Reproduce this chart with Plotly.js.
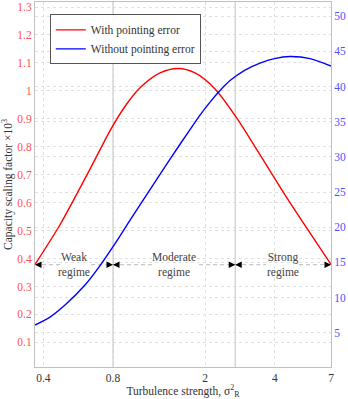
<!DOCTYPE html>
<html><head><meta charset="utf-8">
<script src="https://cdn.plot.ly/plotly-3.0.1.min.js"></script>
<style>html,body{margin:0;padding:0;background:#fff}</style>
</head><body><div id="chart" style="width:348px;height:399px"></div>
<script>
// Red: with pointing error (left axis, x10^3)
const sigmaWith = [0.368, 0.472, 0.637, 0.776, 0.902, 1.047, 1.277, 1.528, 1.809, 2.208, 2.693, 3.455, 4.656, 7.0];
const capWith   = [0.379, 0.521, 0.721, 0.857, 0.945, 1.011, 1.064, 1.080, 1.064, 1.007, 0.912, 0.771, 0.600, 0.379];
// Blue: without pointing error (right axis)
const sigmaWithout = [0.368, 0.427, 0.496, 0.605, 0.703, 0.816, 0.948, 1.156, 1.411, 1.721, 1.901, 2.101, 2.320, 2.563, 2.975, 3.455, 3.990, 4.656, 5.681, 7.0];
const capWithout   = [6.11, 7.24, 8.95, 11.79, 14.56, 17.68, 21.02, 25.36, 29.69, 33.88, 35.94, 37.78, 39.42, 40.84, 42.33, 43.32, 43.96, 44.25, 43.96, 42.90];
// Regimes
const regimeBounds = [0.368, 0.8, 2.7, 7.0];
const regimeNames = ["Weak<br>regime", "Moderate<br>regime", "Strong<br>regime"];
const regimeGaps = [[0.477, 0.643], [1.191, 1.883], [3.667, 5.09]];
const regimeLevel = 0.378;
// Ticks
const xTicks = [0.4, 0.8, 2, 4, 7];
const yLeftTicks = [0.1,0.2,0.3,0.4,0.5,0.6,0.7,0.8,0.9,1.0,1.1,1.2,1.3];
const yRightTicks = [5,10,15,20,25,30,35,40,45,50];

const FONT = "Liberation Serif, Times New Roman, serif";
const GRID = '#e0e0e0';

// dashed regime line with gaps for labels
const dx = [], dy = [];
for (let i = 0; i < regimeNames.length; i++) {
  dx.push(regimeBounds[i], regimeGaps[i][0], null, regimeGaps[i][1], regimeBounds[i+1], null);
  dy.push(regimeLevel, regimeLevel, null, regimeLevel, regimeLevel, null);
}

const traces = [
  {x: regimeBounds.slice(1,3).flatMap(b => [b, b, null]), y: [0.012, 1.318, null, 0.012, 1.318, null],
   mode: 'lines', line: {color: '#cfcfcf', width: 1.3}, showlegend: false, hoverinfo: 'skip'},
  {x: dx, y: dy, mode: 'lines', line: {color: '#b8b8b8', width: 1, dash: '4px,3px'}, showlegend: false, hoverinfo: 'skip'},
  {x: sigmaWith, y: capWith, name: 'With pointing error', mode: 'lines', line: {color: '#ff0000', width: 1.4, shape: 'spline', smoothing: 0.8}},
  {x: sigmaWithout, y: capWithout, name: 'Without pointing error', mode: 'lines', yaxis: 'y2', line: {color: '#0000ff', width: 1.4, shape: 'spline', smoothing: 0.8}}
];

const annotations = [];
for (let i = 0; i < regimeNames.length; i++) {
  const a = regimeBounds[i], b = regimeBounds[i+1];
  annotations.push({x: Math.log10(Math.sqrt(a*b)), y: regimeLevel, xref: 'x', yref: 'y', text: regimeNames[i],
    showarrow: false, font: {family: FONT, size: 11.5, color: '#444'}, align: 'center'});
  annotations.push({x: Math.log10(a), y: regimeLevel, xref: 'x', yref: 'y', text: '', showarrow: true,
    ax: 5, ay: 0, arrowhead: 2, arrowsize: 1.3, arrowwidth: 1, arrowcolor: '#000', standoff: 0});
  annotations.push({x: Math.log10(b), y: regimeLevel, xref: 'x', yref: 'y', text: '', showarrow: true,
    ax: -5, ay: 0, arrowhead: 2, arrowsize: 1.3, arrowwidth: 1, arrowcolor: '#000', standoff: 0});
}

const layout = {
  width: 348, height: 399,
  margin: {l: 35, r: 17, t: 2, b: 32},
  paper_bgcolor: '#fff', plot_bgcolor: '#fff',
  font: {family: FONT, size: 11, color: '#333'},
  xaxis: {type: 'log', range: [Math.log10(0.368), Math.log10(7)], tickvals: xTicks, ticktext: xTicks.map(String),
    showgrid: true, gridcolor: GRID, griddash: 'dot', zeroline: false,
    showline: true, linecolor: '#c0c0c0', mirror: true, ticks: '',
    tickfont: {family: FONT, size: 11.5, color: '#333'},
    title: {text: 'Turbulence strength, σ<sup>2</sup><sub>R</sub>', font: {family: FONT, size: 11.5, color: '#333'}, standoff: 6}},
  yaxis: {range: [0.012, 1.318], tickvals: yLeftTicks, showgrid: true, gridcolor: GRID, griddash: 'dot', zeroline: false,
    showline: true, linecolor: '#c0c0c0', ticks: '',
    tickfont: {family: FONT, size: 11.5, color: '#ff5050'},
    title: {text: 'Capacity scaling factor ×10<sup>3</sup>', font: {family: FONT, size: 11.5, color: '#333'}, standoff: 4}},
  yaxis2: {range: [0.15, 52], tickvals: yRightTicks, overlaying: 'y', side: 'right', showgrid: true, gridcolor: GRID, griddash: 'dot',
    zeroline: false, showline: true, linecolor: '#c0c0c0', ticks: '',
    tickfont: {family: FONT, size: 11.5, color: '#5050ff'}},
  showlegend: true,
  legend: {x: 0.05, y: 0.966, xanchor: 'left', yanchor: 'top', bgcolor: '#fff', bordercolor: '#555', borderwidth: 1,
    font: {family: FONT, size: 11.5, color: '#333'}, itemwidth: 30, tracegroupgap: 0},
  annotations: annotations
};

Plotly.newPlot('chart', traces, layout, {displayModeBar: false, staticPlot: true});
</script></body></html>
